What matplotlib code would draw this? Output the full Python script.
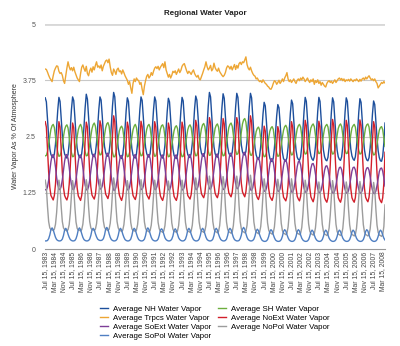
import matplotlib
matplotlib.use('Agg')
import matplotlib.pyplot as plt
import numpy as np

plt.rcParams['font.family'] = ['Liberation Sans', 'DejaVu Sans']

# Monthly values, Jul 1983 .. May 2008 (one row per calendar year)
nh = [
    3.36, 3.27, 2.90, 2.50, 2.23, 2.10,
    2.05, 2.03, 2.11, 2.33, 2.70, 3.09, 3.37, 3.28, 2.92, 2.53, 2.25, 2.11,
    2.06, 2.02, 2.10, 2.34, 2.69, 3.10, 3.38, 3.30, 2.93, 2.52, 2.24, 2.10,
    2.04, 2.03, 2.12, 2.35, 2.72, 3.14, 3.44, 3.33, 2.95, 2.55, 2.26, 2.12,
    2.07, 2.05, 2.13, 2.36, 2.71, 3.10, 3.38, 3.31, 2.96, 2.56, 2.28, 2.14,
    2.08, 2.06, 2.14, 2.38, 2.75, 3.18, 3.48, 3.38, 2.98, 2.55, 2.25, 2.10,
    2.03, 2.01, 2.09, 2.32, 2.68, 3.08, 3.36, 3.28, 2.91, 2.51, 2.23, 2.09,
    2.04, 2.02, 2.11, 2.34, 2.70, 3.10, 3.38, 3.30, 2.94, 2.54, 2.26, 2.12,
    2.06, 2.04, 2.12, 2.35, 2.70, 3.10, 3.38, 3.29, 2.92, 2.52, 2.24, 2.10,
    2.05, 2.02, 2.09, 2.31, 2.66, 3.06, 3.35, 3.27, 2.90, 2.50, 2.22, 2.08,
    2.03, 2.01, 2.09, 2.32, 2.68, 3.08, 3.37, 3.29, 2.92, 2.52, 2.24, 2.10,
    2.05, 2.03, 2.12, 2.35, 2.71, 3.12, 3.40, 3.31, 2.95, 2.55, 2.27, 2.13,
    2.08, 2.06, 2.15, 2.39, 2.76, 3.18, 3.48, 3.38, 2.99, 2.57, 2.27, 2.12,
    2.06, 2.04, 2.13, 2.37, 2.73, 3.15, 3.45, 3.35, 2.97, 2.56, 2.27, 2.13,
    2.08, 2.06, 2.15, 2.38, 2.74, 3.16, 3.46, 3.37, 3.00, 2.60, 2.31, 2.16,
    2.11, 2.09, 2.17, 2.40, 2.76, 3.17, 3.46, 3.36, 2.97, 2.55, 2.25, 2.09,
    2.02, 1.99, 2.06, 2.28, 2.62, 3.00, 3.26, 3.18, 2.83, 2.44, 2.16, 2.02,
    1.96, 1.94, 2.02, 2.24, 2.58, 2.96, 3.21, 3.14, 2.80, 2.42, 2.15, 2.01,
    1.97, 1.95, 2.03, 2.26, 2.62, 3.02, 3.31, 3.23, 2.87, 2.48, 2.19, 2.04,
    1.99, 1.97, 2.05, 2.28, 2.65, 3.06, 3.37, 3.28, 2.91, 2.51, 2.22, 2.07,
    2.00, 1.97, 2.05, 2.28, 2.64, 3.06, 3.37, 3.28, 2.90, 2.50, 2.20, 2.05,
    1.98, 1.96, 2.04, 2.27, 2.63, 3.05, 3.36, 3.27, 2.89, 2.49, 2.20, 2.05,
    1.99, 1.97, 2.05, 2.28, 2.64, 3.05, 3.36, 3.28, 2.91, 2.51, 2.22, 2.07,
    2.00, 1.97, 2.05, 2.27, 2.63, 3.04, 3.34, 3.26, 2.89, 2.49, 2.20, 2.05,
    1.98, 1.96, 2.03, 2.25, 2.60, 3.00, 3.29, 3.21, 2.85, 2.46, 2.18, 2.03,
    1.96, 1.95, 2.06, 2.36, 2.80,
]

sh = [
    2.07, 2.08, 2.17, 2.33, 2.50, 2.66,
    2.74, 2.77, 2.70, 2.50, 2.30, 2.15, 2.06, 2.07, 2.16, 2.32, 2.50, 2.65,
    2.73, 2.76, 2.69, 2.49, 2.29, 2.14, 2.05, 2.06, 2.15, 2.31, 2.49, 2.65,
    2.73, 2.77, 2.70, 2.51, 2.31, 2.16, 2.07, 2.08, 2.17, 2.33, 2.51, 2.67,
    2.76, 2.80, 2.73, 2.53, 2.33, 2.18, 2.09, 2.10, 2.19, 2.35, 2.53, 2.69,
    2.78, 2.81, 2.73, 2.52, 2.31, 2.15, 2.05, 2.05, 2.13, 2.29, 2.47, 2.62,
    2.70, 2.73, 2.67, 2.48, 2.29, 2.14, 2.05, 2.06, 2.15, 2.31, 2.49, 2.65,
    2.73, 2.77, 2.70, 2.51, 2.31, 2.16, 2.07, 2.08, 2.17, 2.33, 2.51, 2.66,
    2.74, 2.77, 2.70, 2.50, 2.30, 2.15, 2.06, 2.07, 2.16, 2.32, 2.50, 2.66,
    2.74, 2.76, 2.69, 2.49, 2.29, 2.14, 2.05, 2.06, 2.14, 2.30, 2.48, 2.63,
    2.71, 2.74, 2.68, 2.49, 2.29, 2.14, 2.05, 2.06, 2.15, 2.31, 2.49, 2.65,
    2.73, 2.76, 2.70, 2.51, 2.31, 2.16, 2.07, 2.08, 2.17, 2.33, 2.51, 2.67,
    2.76, 2.79, 2.72, 2.52, 2.32, 2.17, 2.08, 2.09, 2.18, 2.34, 2.52, 2.68,
    2.75, 2.78, 2.71, 2.51, 2.31, 2.16, 2.07, 2.08, 2.17, 2.34, 2.53, 2.70,
    2.77, 2.80, 2.73, 2.54, 2.34, 2.19, 2.10, 2.12, 2.22, 2.40, 2.60, 2.78,
    2.87, 2.90, 2.82, 2.60, 2.37, 2.20, 2.09, 2.08, 2.15, 2.29, 2.46, 2.61,
    2.68, 2.71, 2.65, 2.46, 2.27, 2.13, 2.05, 2.06, 2.14, 2.29, 2.47, 2.62,
    2.69, 2.72, 2.66, 2.47, 2.28, 2.14, 2.06, 2.07, 2.16, 2.31, 2.49, 2.64,
    2.72, 2.75, 2.69, 2.50, 2.31, 2.17, 2.09, 2.10, 2.19, 2.34, 2.52, 2.67,
    2.74, 2.77, 2.71, 2.52, 2.33, 2.19, 2.11, 2.12, 2.21, 2.36, 2.54, 2.69,
    2.75, 2.78, 2.72, 2.53, 2.34, 2.20, 2.12, 2.13, 2.21, 2.36, 2.53, 2.68,
    2.74, 2.77, 2.71, 2.52, 2.33, 2.19, 2.11, 2.12, 2.20, 2.35, 2.53, 2.68,
    2.75, 2.78, 2.72, 2.53, 2.34, 2.20, 2.12, 2.13, 2.21, 2.36, 2.54, 2.69,
    2.74, 2.77, 2.71, 2.52, 2.33, 2.19, 2.11, 2.12, 2.21, 2.36, 2.54, 2.70,
    2.76, 2.78, 2.71, 2.51, 2.31, 2.17, 2.09, 2.10, 2.18, 2.33, 2.50, 2.64,
    2.70, 2.72, 2.65, 2.46, 2.28,
]

trpcs = [
    4.00, 3.99, 3.93, 3.86, 3.80, 3.76,
    3.72, 3.85, 3.96, 4.02, 4.07, 4.06, 3.95, 3.90, 3.92, 3.86, 3.74, 3.68,
    3.85, 4.02, 4.16, 4.05, 3.98, 4.03, 3.96, 4.04, 3.94, 3.87, 3.80, 3.76,
    3.72, 3.90, 4.04, 4.09, 4.01, 3.95, 4.06, 3.90, 3.85, 3.96, 4.02, 3.93,
    4.05, 3.98, 4.08, 4.16, 4.04, 4.07, 4.02, 4.09, 3.96, 4.06, 4.12, 4.18,
    4.20, 4.14, 4.22, 4.05, 3.92, 3.86, 4.00, 3.95, 3.88, 3.99, 4.02, 3.94,
    3.96, 3.89, 3.98, 3.92, 3.85, 3.80, 3.75, 3.66, 3.72, 3.58, 3.46, 3.68,
    3.78, 3.72, 3.80, 3.76, 3.74, 3.66, 3.70, 3.55, 3.43, 3.62, 3.74, 3.84,
    3.88, 3.80, 3.84, 3.92, 3.86, 3.95, 4.02, 4.05, 4.01, 4.06, 3.98, 4.04,
    4.08, 4.12, 4.03, 4.16, 3.98, 3.90, 3.82, 3.88, 3.80, 3.86, 3.95, 3.92,
    3.96, 3.88, 3.94, 4.00, 3.92, 3.97, 4.06, 4.10, 4.12, 4.04, 3.96, 3.90,
    3.95, 3.92, 3.88, 3.94, 3.98, 3.90, 3.85, 3.82, 3.86, 3.78, 3.76, 3.83,
    3.90, 3.98, 4.05, 4.16, 4.05, 3.98, 4.02, 4.08, 3.96, 4.00, 4.13, 4.03,
    3.98, 3.95, 4.02, 3.94, 3.90, 3.86, 3.83, 3.86, 3.92, 4.02, 4.07, 4.05,
    4.00, 4.06, 3.98, 4.04, 4.10, 3.99, 4.08, 4.02, 4.12, 4.15, 4.10, 4.16,
    4.14, 4.20, 4.27, 4.10, 4.02, 3.98, 4.04, 3.96, 3.90, 3.86, 3.84, 3.78,
    3.80, 3.75, 3.72, 3.74, 3.70, 3.76, 3.72, 3.68, 3.66, 3.62, 3.60, 3.56,
    3.55, 3.60, 3.68, 3.74, 3.72, 3.66, 3.70, 3.75, 3.68, 3.72, 3.78, 3.72,
    3.80, 3.85, 3.92, 3.78, 3.72, 3.76, 3.70, 3.74, 3.78, 3.72, 3.68, 3.75,
    3.78, 3.74, 3.80, 3.76, 3.82, 3.78, 3.72, 3.76, 3.80, 3.74, 3.70, 3.76,
    3.72, 3.78, 3.66, 3.74, 3.70, 3.76, 3.68, 3.72, 3.64, 3.70, 3.66, 3.62,
    3.60, 3.68, 3.72, 3.74, 3.70, 3.73, 3.68, 3.72, 3.76, 3.70, 3.74, 3.78,
    3.80, 3.76, 3.79, 3.74, 3.78, 3.72, 3.76, 3.74, 3.77, 3.73, 3.78, 3.75,
    3.72, 3.76, 3.74, 3.78, 3.75, 3.72, 3.77, 3.73, 3.78, 3.80, 3.76, 3.82,
    3.78, 3.82, 3.85, 3.80, 3.76, 3.78, 3.74, 3.78, 3.72, 3.68, 3.58, 3.62,
    3.66, 3.70, 3.68, 3.72, 3.69,
]

noext = [
    2.83, 2.71, 2.21, 1.71, 1.37, 1.19,
    1.14, 1.09, 1.19, 1.44, 1.87, 2.41, 2.83, 2.71, 2.21, 1.71, 1.37, 1.19,
    1.13, 1.09, 1.18, 1.43, 1.85, 2.39, 2.80, 2.69, 2.19, 1.70, 1.36, 1.18,
    1.13, 1.08, 1.19, 1.44, 1.87, 2.41, 2.82, 2.71, 2.21, 1.72, 1.38, 1.20,
    1.15, 1.11, 1.21, 1.46, 1.89, 2.44, 2.85, 2.74, 2.24, 1.75, 1.40, 1.22,
    1.17, 1.12, 1.23, 1.50, 1.95, 2.52, 2.96, 2.83, 2.28, 1.75, 1.39, 1.20,
    1.13, 1.08, 1.18, 1.43, 1.86, 2.40, 2.82, 2.70, 2.20, 1.71, 1.37, 1.19,
    1.14, 1.10, 1.20, 1.45, 1.88, 2.42, 2.84, 2.72, 2.22, 1.73, 1.39, 1.21,
    1.16, 1.11, 1.21, 1.45, 1.87, 2.41, 2.83, 2.71, 2.20, 1.70, 1.36, 1.18,
    1.12, 1.08, 1.18, 1.43, 1.85, 2.39, 2.80, 2.68, 2.18, 1.69, 1.35, 1.17,
    1.12, 1.08, 1.18, 1.43, 1.86, 2.40, 2.82, 2.70, 2.20, 1.71, 1.37, 1.19,
    1.15, 1.11, 1.21, 1.46, 1.90, 2.44, 2.86, 2.74, 2.24, 1.75, 1.41, 1.23,
    1.18, 1.14, 1.24, 1.50, 1.94, 2.50, 2.92, 2.80, 2.28, 1.78, 1.43, 1.24,
    1.18, 1.14, 1.24, 1.49, 1.93, 2.48, 2.90, 2.78, 2.27, 1.77, 1.43, 1.25,
    1.20, 1.16, 1.26, 1.51, 1.95, 2.50, 2.92, 2.80, 2.30, 1.80, 1.46, 1.27,
    1.21, 1.16, 1.27, 1.53, 1.98, 2.54, 2.96, 2.82, 2.28, 1.76, 1.40, 1.21,
    1.14, 1.10, 1.19, 1.43, 1.84, 2.36, 2.73, 2.62, 2.14, 1.67, 1.34, 1.17,
    1.12, 1.08, 1.17, 1.41, 1.82, 2.34, 2.72, 2.61, 2.13, 1.66, 1.33, 1.15,
    1.11, 1.07, 1.17, 1.42, 1.86, 2.41, 2.83, 2.71, 2.20, 1.70, 1.36, 1.17,
    1.11, 1.07, 1.17, 1.43, 1.88, 2.44, 2.86, 2.74, 2.22, 1.71, 1.36, 1.16,
    1.10, 1.05, 1.15, 1.41, 1.86, 2.42, 2.84, 2.72, 2.20, 1.69, 1.34, 1.14,
    1.08, 1.04, 1.14, 1.41, 1.88, 2.46, 2.88, 2.75, 2.22, 1.70, 1.34, 1.14,
    1.08, 1.04, 1.14, 1.41, 1.87, 2.44, 2.86, 2.74, 2.21, 1.69, 1.34, 1.14,
    1.08, 1.04, 1.14, 1.41, 1.87, 2.45, 2.87, 2.75, 2.22, 1.70, 1.35, 1.15,
    1.09, 1.05, 1.15, 1.41, 1.86, 2.42, 2.83, 2.71, 2.19, 1.68, 1.33, 1.13,
    1.07, 1.03, 1.14, 1.46, 2.15,
]

soext = [
    1.32, 1.31, 1.38, 1.53, 1.74, 1.94,
    2.08, 2.10, 2.01, 1.82, 1.59, 1.43, 1.33, 1.32, 1.39, 1.54, 1.75, 1.95,
    2.09, 2.10, 2.01, 1.82, 1.59, 1.43, 1.33, 1.32, 1.39, 1.54, 1.75, 1.95,
    2.08, 2.09, 2.00, 1.81, 1.58, 1.42, 1.32, 1.31, 1.38, 1.53, 1.74, 1.94,
    2.09, 2.11, 2.02, 1.83, 1.60, 1.44, 1.34, 1.33, 1.40, 1.55, 1.76, 1.97,
    2.12, 2.13, 2.03, 1.83, 1.59, 1.42, 1.31, 1.30, 1.37, 1.52, 1.73, 1.93,
    2.07, 2.08, 1.99, 1.80, 1.58, 1.42, 1.32, 1.31, 1.38, 1.53, 1.74, 1.94,
    2.08, 2.10, 2.01, 1.82, 1.59, 1.43, 1.33, 1.32, 1.39, 1.54, 1.75, 1.95,
    2.09, 2.10, 2.01, 1.82, 1.59, 1.43, 1.33, 1.32, 1.39, 1.54, 1.74, 1.94,
    2.08, 2.09, 2.00, 1.81, 1.58, 1.42, 1.32, 1.31, 1.38, 1.53, 1.74, 1.94,
    2.08, 2.09, 2.00, 1.81, 1.58, 1.42, 1.32, 1.31, 1.38, 1.53, 1.74, 1.94,
    2.09, 2.10, 2.01, 1.82, 1.59, 1.43, 1.33, 1.32, 1.39, 1.54, 1.75, 1.96,
    2.11, 2.12, 2.03, 1.83, 1.60, 1.44, 1.34, 1.33, 1.40, 1.55, 1.76, 1.96,
    2.10, 2.11, 2.02, 1.82, 1.59, 1.43, 1.33, 1.32, 1.39, 1.55, 1.76, 1.97,
    2.12, 2.13, 2.04, 1.84, 1.61, 1.45, 1.35, 1.34, 1.42, 1.58, 1.80, 2.00,
    2.14, 2.15, 2.05, 1.84, 1.60, 1.43, 1.32, 1.30, 1.36, 1.50, 1.70, 1.89,
    2.02, 2.03, 1.95, 1.76, 1.54, 1.38, 1.29, 1.28, 1.35, 1.49, 1.69, 1.88,
    2.00, 2.01, 1.93, 1.75, 1.53, 1.38, 1.29, 1.28, 1.34, 1.48, 1.67, 1.85,
    1.97, 1.98, 1.90, 1.72, 1.51, 1.36, 1.27, 1.26, 1.33, 1.47, 1.65, 1.83,
    1.94, 1.95, 1.87, 1.70, 1.50, 1.35, 1.27, 1.26, 1.32, 1.45, 1.62, 1.79,
    1.89, 1.90, 1.83, 1.67, 1.48, 1.34, 1.26, 1.25, 1.31, 1.43, 1.59, 1.75,
    1.84, 1.85, 1.78, 1.63, 1.45, 1.32, 1.25, 1.24, 1.30, 1.42, 1.58, 1.73,
    1.81, 1.82, 1.76, 1.61, 1.44, 1.32, 1.25, 1.24, 1.30, 1.42, 1.58, 1.73,
    1.81, 1.82, 1.76, 1.61, 1.44, 1.32, 1.25, 1.24, 1.30, 1.42, 1.58, 1.73,
    1.80, 1.81, 1.75, 1.60, 1.43, 1.31, 1.24, 1.23, 1.29, 1.41, 1.57, 1.72,
    1.79, 1.80, 1.73, 1.58, 1.40,
]

nopol = [
    1.53, 1.37, 0.94, 0.61, 0.47, 0.43,
    0.43, 0.41, 0.44, 0.55, 0.81, 1.21, 1.53, 1.37, 0.94, 0.61, 0.47, 0.43,
    0.42, 0.40, 0.43, 0.54, 0.80, 1.20, 1.52, 1.36, 0.93, 0.60, 0.46, 0.42,
    0.42, 0.40, 0.43, 0.55, 0.81, 1.21, 1.54, 1.38, 0.94, 0.61, 0.47, 0.43,
    0.43, 0.41, 0.44, 0.56, 0.82, 1.22, 1.55, 1.39, 0.95, 0.62, 0.48, 0.44,
    0.43, 0.41, 0.44, 0.57, 0.84, 1.26, 1.58, 1.42, 0.96, 0.61, 0.47, 0.42,
    0.41, 0.39, 0.42, 0.54, 0.80, 1.20, 1.52, 1.36, 0.92, 0.59, 0.45, 0.41,
    0.41, 0.39, 0.42, 0.54, 0.81, 1.21, 1.54, 1.38, 0.94, 0.60, 0.46, 0.41,
    0.40, 0.38, 0.41, 0.53, 0.80, 1.20, 1.53, 1.37, 0.93, 0.59, 0.45, 0.40,
    0.39, 0.37, 0.40, 0.52, 0.79, 1.19, 1.51, 1.35, 0.92, 0.58, 0.44, 0.39,
    0.39, 0.37, 0.40, 0.52, 0.80, 1.21, 1.53, 1.37, 0.93, 0.59, 0.44, 0.39,
    0.39, 0.37, 0.40, 0.53, 0.82, 1.24, 1.58, 1.41, 0.95, 0.60, 0.45, 0.40,
    0.39, 0.37, 0.40, 0.53, 0.83, 1.26, 1.62, 1.45, 0.97, 0.61, 0.45, 0.39,
    0.38, 0.36, 0.39, 0.52, 0.82, 1.25, 1.61, 1.44, 0.96, 0.60, 0.44, 0.38,
    0.37, 0.35, 0.38, 0.52, 0.82, 1.26, 1.62, 1.45, 0.97, 0.61, 0.45, 0.39,
    0.38, 0.36, 0.39, 0.53, 0.84, 1.28, 1.64, 1.46, 0.97, 0.60, 0.44, 0.38,
    0.36, 0.34, 0.37, 0.50, 0.79, 1.21, 1.56, 1.39, 0.93, 0.58, 0.42, 0.36,
    0.35, 0.33, 0.36, 0.49, 0.78, 1.20, 1.55, 1.38, 0.92, 0.57, 0.41, 0.35,
    0.34, 0.32, 0.35, 0.49, 0.78, 1.20, 1.56, 1.39, 0.92, 0.57, 0.41, 0.35,
    0.34, 0.32, 0.35, 0.48, 0.77, 1.18, 1.53, 1.37, 0.91, 0.56, 0.40, 0.34,
    0.33, 0.31, 0.34, 0.47, 0.75, 1.15, 1.49, 1.33, 0.89, 0.55, 0.39, 0.33,
    0.32, 0.30, 0.33, 0.47, 0.76, 1.17, 1.52, 1.36, 0.90, 0.55, 0.39, 0.33,
    0.32, 0.30, 0.33, 0.46, 0.75, 1.15, 1.49, 1.33, 0.89, 0.54, 0.38, 0.32,
    0.31, 0.29, 0.32, 0.46, 0.75, 1.16, 1.50, 1.34, 0.89, 0.54, 0.38, 0.32,
    0.31, 0.29, 0.32, 0.45, 0.74, 1.14, 1.48, 1.32, 0.88, 0.53, 0.37, 0.31,
    0.30, 0.28, 0.32, 0.50, 0.98,
]

sopol = [
    0.18, 0.18, 0.19, 0.23, 0.31, 0.43,
    0.47, 0.43, 0.34, 0.26, 0.21, 0.19, 0.18, 0.18, 0.19, 0.22, 0.30, 0.42,
    0.46, 0.42, 0.33, 0.26, 0.21, 0.19, 0.18, 0.18, 0.19, 0.23, 0.31, 0.43,
    0.47, 0.43, 0.34, 0.26, 0.21, 0.19, 0.18, 0.18, 0.19, 0.22, 0.30, 0.42,
    0.46, 0.43, 0.34, 0.27, 0.22, 0.20, 0.19, 0.19, 0.20, 0.23, 0.31, 0.44,
    0.48, 0.44, 0.34, 0.26, 0.21, 0.19, 0.18, 0.18, 0.19, 0.22, 0.30, 0.42,
    0.46, 0.42, 0.33, 0.26, 0.21, 0.19, 0.18, 0.18, 0.19, 0.22, 0.30, 0.42,
    0.46, 0.43, 0.34, 0.26, 0.21, 0.19, 0.18, 0.18, 0.19, 0.22, 0.30, 0.43,
    0.47, 0.43, 0.34, 0.26, 0.21, 0.19, 0.18, 0.18, 0.19, 0.22, 0.30, 0.42,
    0.45, 0.42, 0.33, 0.25, 0.21, 0.19, 0.18, 0.18, 0.19, 0.22, 0.29, 0.41,
    0.45, 0.41, 0.33, 0.25, 0.21, 0.19, 0.18, 0.18, 0.19, 0.22, 0.30, 0.42,
    0.46, 0.42, 0.33, 0.26, 0.21, 0.19, 0.18, 0.18, 0.19, 0.22, 0.30, 0.42,
    0.46, 0.43, 0.34, 0.26, 0.21, 0.19, 0.18, 0.18, 0.19, 0.22, 0.30, 0.43,
    0.46, 0.42, 0.33, 0.26, 0.21, 0.19, 0.18, 0.18, 0.19, 0.22, 0.30, 0.42,
    0.46, 0.43, 0.34, 0.26, 0.21, 0.19, 0.18, 0.18, 0.19, 0.23, 0.31, 0.44,
    0.48, 0.44, 0.34, 0.26, 0.21, 0.19, 0.18, 0.18, 0.19, 0.22, 0.29, 0.40,
    0.44, 0.41, 0.32, 0.25, 0.20, 0.18, 0.17, 0.17, 0.18, 0.21, 0.28, 0.39,
    0.43, 0.40, 0.32, 0.25, 0.20, 0.18, 0.17, 0.17, 0.18, 0.21, 0.28, 0.39,
    0.43, 0.40, 0.32, 0.25, 0.20, 0.18, 0.17, 0.17, 0.18, 0.21, 0.28, 0.39,
    0.43, 0.40, 0.31, 0.24, 0.20, 0.18, 0.17, 0.17, 0.18, 0.21, 0.28, 0.38,
    0.42, 0.39, 0.31, 0.24, 0.20, 0.18, 0.17, 0.17, 0.18, 0.21, 0.28, 0.38,
    0.42, 0.39, 0.31, 0.24, 0.20, 0.18, 0.17, 0.17, 0.18, 0.21, 0.28, 0.38,
    0.42, 0.39, 0.31, 0.24, 0.20, 0.18, 0.17, 0.17, 0.18, 0.21, 0.28, 0.38,
    0.42, 0.39, 0.31, 0.24, 0.20, 0.18, 0.17, 0.17, 0.18, 0.21, 0.28, 0.39,
    0.43, 0.40, 0.31, 0.24, 0.20, 0.18, 0.17, 0.17, 0.18, 0.21, 0.28, 0.38,
    0.42, 0.39, 0.31, 0.24, 0.20,
]

tick_labels = [
    'Jul 15, 1983', 'Mar 15, 1984', 'Nov 15, 1984', 'Jul 15, 1985', 'Mar 15, 1986',
    'Nov 15, 1986', 'Jul 15, 1987', 'Mar 15, 1988', 'Nov 15, 1988', 'Jul 15, 1989',
    'Mar 15, 1990', 'Nov 15, 1990', 'Jul 15, 1991', 'Mar 15, 1992', 'Nov 15, 1992',
    'Jul 15, 1993', 'Mar 15, 1994', 'Nov 15, 1994', 'Jul 15, 1995', 'Mar 15, 1996',
    'Nov 15, 1996', 'Jul 15, 1997', 'Mar 15, 1998', 'Nov 15, 1998', 'Jul 15, 1999',
    'Mar 15, 2000', 'Nov 15, 2000', 'Jul 15, 2001', 'Mar 15, 2002', 'Nov 15, 2002',
    'Jul 15, 2003', 'Mar 15, 2004', 'Nov 15, 2004', 'Jul 15, 2005', 'Mar 15, 2006',
    'Nov 15, 2006', 'Jul 15, 2007', 'Mar 15, 2008',
]

y_ticks = [0, 1.25, 2.5, 3.75, 5]
y_tick_labels = ['0', '1.25', '2.5', '3.75', '5']

series = [
    ('Average NH Water Vapor', nh, '#1d4f9c'),
    ('Average SH Water Vapor', sh, '#6cae3e'),
    ('Average Trpcs Water Vapor', trpcs, '#eda634'),
    ('Average NoExt Water Vapor', noext, '#d21f2b'),
    ('Average SoExt Water Vapor', soext, '#7d3e97'),
    ('Average NoPol Water Vapor', nopol, '#9c9c9c'),
    ('Average SoPol Water Vapor', sopol, '#4f7fc2'),
]

fig = plt.figure(figsize=(4.0, 3.46), dpi=100)
ax = fig.add_axes([0.1125, 0.2803, 0.85, 0.6503])

handles = {}
for name, vals, col in series:
    line, = ax.plot(np.arange(len(vals)), vals, color=col, lw=1.0)
    handles[name] = line

ax.set_xlim(-0.2, 298)
ax.set_ylim(0, 5)
ax.set_yticks(y_ticks)
ax.set_yticklabels(y_tick_labels)
ax.set_xticks(np.arange(len(tick_labels)) * 8)
ax.set_xticklabels(tick_labels, rotation=90, fontsize=4.9, color='#444444')
ax.tick_params(axis='both', length=0, pad=2)
ax.tick_params(axis='y', labelsize=5, labelcolor='#555555', pad=6.5)

for s in ['top', 'right', 'left']:
    ax.spines[s].set_visible(False)
ax.spines['bottom'].set_color('#999999')
ax.spines['bottom'].set_linewidth(0.8)

for yv in y_ticks[1:]:
    ax.axhline(yv, color='#c8c8c8', lw=0.8, zorder=0)
ax.axhline(5, color='#d8d8d8', lw=2.0, zorder=0)

ax.set_ylabel('Water Vapor As % Of Atmosphere', fontsize=5, color='#333333')
ax.yaxis.set_label_coords(-0.075, 0.5)

fig.text(0.5125, 0.962, 'Regional Water Vapor', ha='center', va='center',
         fontsize=5.8, fontweight='bold', color='#222222')

col1 = ['Average NH Water Vapor', 'Average Trpcs Water Vapor',
        'Average SoExt Water Vapor', 'Average SoPol Water Vapor']
col2 = ['Average SH Water Vapor', 'Average NoExt Water Vapor',
        'Average NoPol Water Vapor']
leg_kw = dict(loc='upper left', frameon=False, fontsize=5.7, handlelength=1.05,
              handletextpad=0.6, labelspacing=0.2, borderaxespad=0, borderpad=0)
fig.legend([handles[n] for n in col1], col1, bbox_to_anchor=(0.25, 0.118), **leg_kw)
fig.legend([handles[n] for n in col2], col2, bbox_to_anchor=(0.545, 0.118), **leg_kw)

fig.savefig('out.png', dpi=100)
